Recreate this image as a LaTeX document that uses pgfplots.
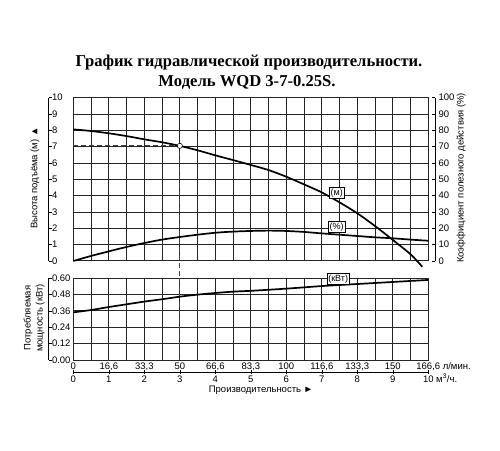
\documentclass[border=0pt]{standalone}
\usepackage{fontspec}
\setmainfont{Liberation Sans}
\newfontfamily\titlefont{Liberation Serif}
\usepackage{pgfplots}
\pgfplotsset{compat=1.18}

\pgfplotsset{
  gridbox/.style={scale only axis, width=355pt, xmin=0, xmax=10,
    xtick={0,0.5,...,10}, xticklabels={}, yticklabels={},
    major tick length=0pt, grid=major,
    major grid style={black!85, line width=1pt},
    axis line style={black!85, line width=1pt}},
  spine/.style={scale only axis, width=5pt, xmin=0, xmax=1, hide x axis,
    tick align=inside, major tick length=3pt,
    axis line style={black, line width=0.6pt},
    tick style={black, line width=0.6pt},
    tick label style={font=\fontsize{9.5}{11}\selectfont}},
  curve/.style={black, line width=1.7pt, smooth, tension=0.5},
}
\tikzset{tag/.style={draw=black, fill=white, line width=0.5pt, inner sep=1.2pt,
    font=\fontsize{9}{10}\selectfont}}

\begin{document}
\begin{tikzpicture}
\useasboundingbox (0,0) rectangle (500pt,450pt);

% title
\node[anchor=base, font=\titlefont\bfseries\fontsize{16.6}{18}\selectfont]
  at (249pt,383.3pt) {График гидравлической производительности.};
\node[anchor=base, font=\titlefont\bfseries\fontsize{16.6}{18}\selectfont]
  at (247pt,363.3pt) {Модель WQD 3-7-0.25S.};

% head (m), upper grid
\begin{axis}[gridbox, at={(73.3pt,189pt)}, anchor=south west,
  height=163.3pt, ymin=0, ymax=10, ytick={0,...,10}, clip=false]
\addplot[black!75, line width=0.8pt, dash pattern=on 5pt off 3pt]
  coordinates {(0,7.05) (3,7.05) (3,-1.06)};
\addplot[curve] coordinates {
  (0,8.06) (0.5,7.96) (1,7.82) (1.5,7.65) (2,7.45) (2.5,7.27) (3,7.05)
  (3.5,6.78) (4,6.47) (4.5,6.18) (5,5.88) (5.5,5.57) (6,5.16) (6.5,4.69)
  (7,4.20) (7.5,3.59) (8,2.92) (8.5,2.14) (9,1.29) (9.5,0.41) (9.83,-0.35)};
\addplot[only marks, mark=*, mark size=2.6pt,
  mark options={fill=white, draw=black, line width=0.6pt}]
  coordinates {(3,7.05)};
\node[tag] at (axis cs:7.42,4.18) {(м)};
\end{axis}

% efficiency (%), same box
\begin{axis}[scale only axis, width=355pt, height=163.3pt,
  at={(73.3pt,189pt)}, anchor=south west, hide axis,
  xmin=0, xmax=10, ymin=0, ymax=100]
\addplot[curve] coordinates {
  (0,0) (0.5,3.1) (1,5.9) (1.5,8.6) (2,11.0) (2.5,13.1) (3,14.7)
  (3.5,16.1) (4,17.3) (4.5,18.0) (5,18.4) (5.5,18.6) (6,18.4) (6.5,17.8)
  (7,16.9) (7.5,16.1) (8,15.3) (8.5,14.5) (9,13.9) (9.5,13.1) (10,12.4)};
\node[tag] at (axis cs:7.42,21) {(\%)};
\end{axis}

% power (kW), lower grid
\begin{axis}[gridbox, at={(73.3pt,90pt)}, anchor=south west,
  height=81.7pt, ymin=0, ymax=0.6, ytick={0,0.12,0.24,0.36,0.48,0.6},
  clip=false]
\addplot[black!75, line width=0.8pt, dash pattern=on 5pt off 3pt]
  coordinates {(3,0.6) (3,0)};
\addplot[curve] coordinates {
  (0,0.35) (0.5,0.367) (1,0.389) (1.5,0.409) (2,0.429) (2.5,0.446)
  (3,0.465) (3.5,0.48) (4,0.492) (4.5,0.502) (5,0.508) (6,0.524)
  (7,0.543) (8,0.558) (9,0.573) (10,0.588)};
\node[tag] at (axis cs:7.46,0.595) {(кВт)};
\end{axis}

% left spines
\begin{axis}[spine, at={(48.5pt,189pt)}, anchor=south west,
  height=163.3pt, ymin=0, ymax=10, axis y line*=left,
  ytick={0,...,10}, yticklabels={0,1,2,3,4,5,6,7,8,9,10},
  yticklabel style={anchor=west}]
\end{axis}
\begin{axis}[spine, at={(48.5pt,90pt)}, anchor=south west,
  height=81.7pt, ymin=0, ymax=0.6, axis y line*=left,
  ytick={0,0.12,0.24,0.36,0.48,0.6},
  yticklabels={0.00,0.12,0.24,0.36,0.48,0.60},
  yticklabel style={anchor=west}]
\end{axis}
% right spine
\begin{axis}[spine, at={(435pt,189pt)}, anchor=south east,
  height=163.3pt, ymin=0, ymax=100, axis y line*=right,
  ytick={0,10,...,100},
  yticklabels={0,10,20,30,40,50,60,70,80,90,100}]
\end{axis}

% bottom scales
\begin{axis}[spine, hide x axis=false, hide y axis, width=355pt, height=5pt,
  at={(73.3pt,78pt)}, anchor=south west, xmin=0, xmax=10, ymin=0, ymax=1,
  axis x line*=bottom, tick align=center, major tick length=4pt,
  xtick={0,...,10},
  xticklabel style={text height=6.9pt, text depth=0pt, inner sep=1.5pt},
  xticklabels={0,1,2,3,4,5,6,7,8,9,{10\rlap{ м\textsuperscript{3}/ч.}}}]
\end{axis}
\begin{axis}[spine, hide x axis=false, hide y axis, width=355pt, height=5pt,
  at={(73.3pt,78pt)}, anchor=north west, xmin=0, xmax=10, ymin=0, ymax=1,
  axis x line*=top, major tick length=0pt, axis line style={draw=none},
  xtick={0,...,10},
  xticklabel style={text height=6.9pt, text depth=1.8pt, inner sep=0.6pt},
  xticklabels={0,{16,6},{33,3},50,{66,6},{83,3},100,{116,6},{133,3},150,
    {166,6\rlap{ л/мин.}}}]
\end{axis}

% axis titles
\node[rotate=90, font=\fontsize{9.5}{11}\selectfont] at (35pt,272pt)
  {Высота подъёма (м) ▲};
\node[rotate=90, font=\fontsize{9.5}{11}\selectfont] at (461pt,272pt)
  {Коэффициент полезного действия (\%)};
\node[rotate=90, align=center, font=\fontsize{9.5}{12}\selectfont]
  at (34pt,132pt) {Потребляемая\\мощность (кВт)};
\node[font=\fontsize{9.5}{11}\selectfont, inner sep=0.5pt] at (261pt,60pt)
  {Производительность ►};
\end{tikzpicture}
\end{document}
